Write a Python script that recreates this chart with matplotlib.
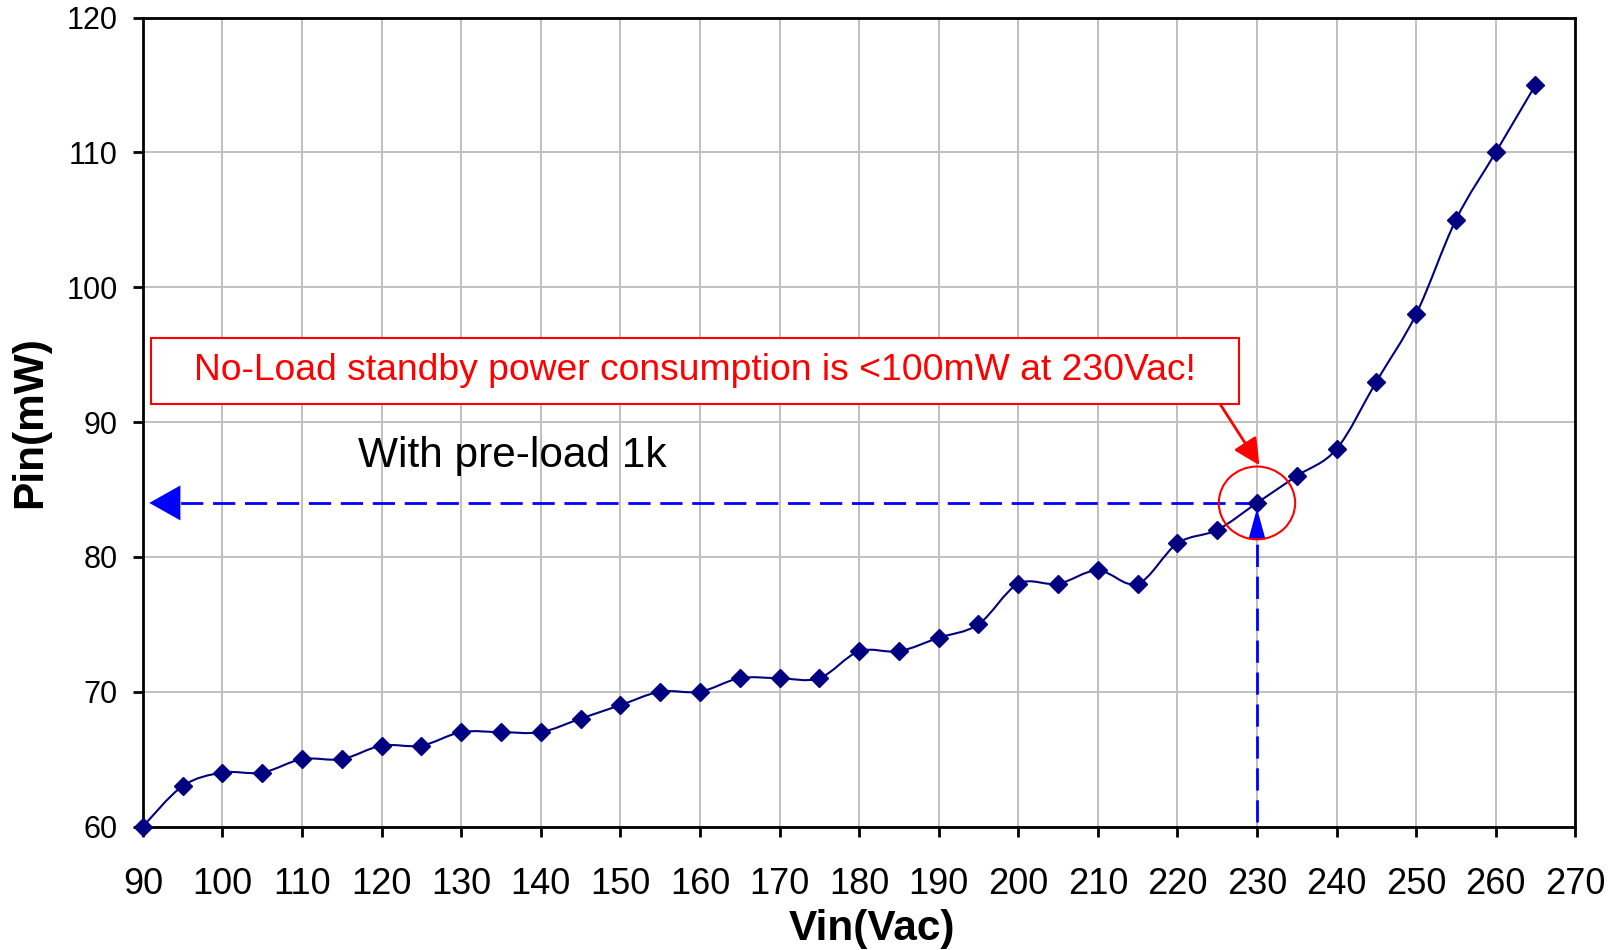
import numpy as np
import matplotlib
matplotlib.use("Agg")
import matplotlib.pyplot as plt
from matplotlib.path import Path
from matplotlib.patches import PathPatch, Ellipse, Rectangle

plt.rcParams['font.family'] = ['Liberation Sans', 'DejaVu Sans']

# measured input power vs AC input voltage
vin = [90, 95, 100, 105, 110, 115, 120, 125, 130, 135, 140, 145, 150, 155, 160, 165, 170, 175,
       180, 185, 190, 195, 200, 205, 210, 215, 220, 225, 230, 235, 240, 245, 250, 255, 260, 265]
pin = [60, 63, 64, 64, 65, 65, 66, 66, 67, 67, 67, 68, 69, 70, 70, 71, 71, 71,
       73, 73, 74, 75, 78, 78, 79, 78, 81, 82, 84, 86, 88, 93, 98, 105, 110, 115]

x_ticks = list(range(90, 271, 10))
y_ticks = list(range(60, 121, 10))
mark_v = 230
note = "No-Load standby power consumption is <100mW at 230Vac!"
label = "With pre-load 1k"


def smooth_path(x, y):
    # excel style smoothed line (bezier through every point)
    pts = np.column_stack([x, y]).astype(float)
    n = len(pts)
    verts = [pts[0]]
    codes = [Path.MOVETO]
    for i in range(n - 1):
        p0 = pts[i - 1] if i > 0 else pts[i]
        p1 = pts[i]
        p2 = pts[i + 1]
        p3 = pts[i + 2] if i + 2 < n else pts[i + 1]
        verts += [p1 + (p2 - p0) / 6, p2 - (p3 - p1) / 6, p2]
        codes += [Path.CURVE4] * 3
    return Path(verts, codes)


fig = plt.figure(figsize=(16.24, 9.5), dpi=100)
ax = fig.add_axes([0.088, 0.130, 0.882, 0.8515])

ax.add_patch(PathPatch(smooth_path(vin, pin), fill=False, color='#000080', lw=1.5, zorder=4))
ax.plot(vin, pin, 'D', color='#000080', ms=9, zorder=5, clip_on=False)

ax.set_xlim(90, 270)
ax.set_ylim(60, 120)
ax.set_xticks(x_ticks)
ax.set_yticks(y_ticks)
ax.grid(True, color='#c0c0c0', lw=1.4)
ax.set_axisbelow(True)
for s in ax.spines.values():
    s.set_linewidth(2)
ax.tick_params(axis='both', direction='out', length=7, width=2)
ax.tick_params(axis='x', labelsize=26, pad=22)
ax.tick_params(axis='y', labelsize=22, pad=11)
ax.set_xlabel("Vin(Vac)", fontsize=30.5, fontweight='bold', labelpad=5)
ax.xaxis.label.set_x(0.509)
ax.set_ylabel("Pin(mW)", fontsize=30.5, fontweight='bold', labelpad=12)

pv = pin[vin.index(mark_v)]

# dashed guide lines with arrow heads
ax.plot([mark_v, 93.2], [pv, pv], color='blue', lw=2, dashes=(8, 3.5), zorder=3)
ax.annotate('', xy=(90.8, pv), xytext=(93.8, pv),
            arrowprops=dict(arrowstyle='-|>,head_length=0.8,head_width=0.45', color='blue',
                            lw=0, mutation_scale=28, shrinkA=0, shrinkB=0), zorder=6)
ax.plot([mark_v, mark_v], [60.3, pv - 2.2], color='blue', lw=2, dashes=(8, 3.5), zorder=3)
ax.annotate('', xy=(mark_v, pv - 0.4), xytext=(mark_v, pv - 2.6),
            arrowprops=dict(arrowstyle='-|>,head_length=0.8,head_width=0.22', color='blue',
                            lw=0, mutation_scale=28, shrinkA=0, shrinkB=0), zorder=6)

ax.add_patch(Ellipse((mark_v, pv), 9.6, 5.4, fill=False, ec='red', lw=1.5, zorder=6))

# red callout box
ax.add_patch(Rectangle((91.05, 91.35), 136.65, 4.92, fc='white', ec='red', lw=1.5, zorder=7))
ax.text(159.4, 93.8, note, color='red', fontsize=26.8, ha='center', va='center', zorder=8)
ax.annotate('', xy=(230.3, 86.8), xytext=(225.4, 91.3),
            arrowprops=dict(arrowstyle='-|>,head_length=0.8,head_width=0.4', color='red',
                            lw=2, mutation_scale=20, shrinkA=0, shrinkB=0), zorder=6)

ax.text(117, 87.45, label, fontsize=30.5, ha='left', va='center', zorder=7)

fig.savefig("out.png", dpi=100)
